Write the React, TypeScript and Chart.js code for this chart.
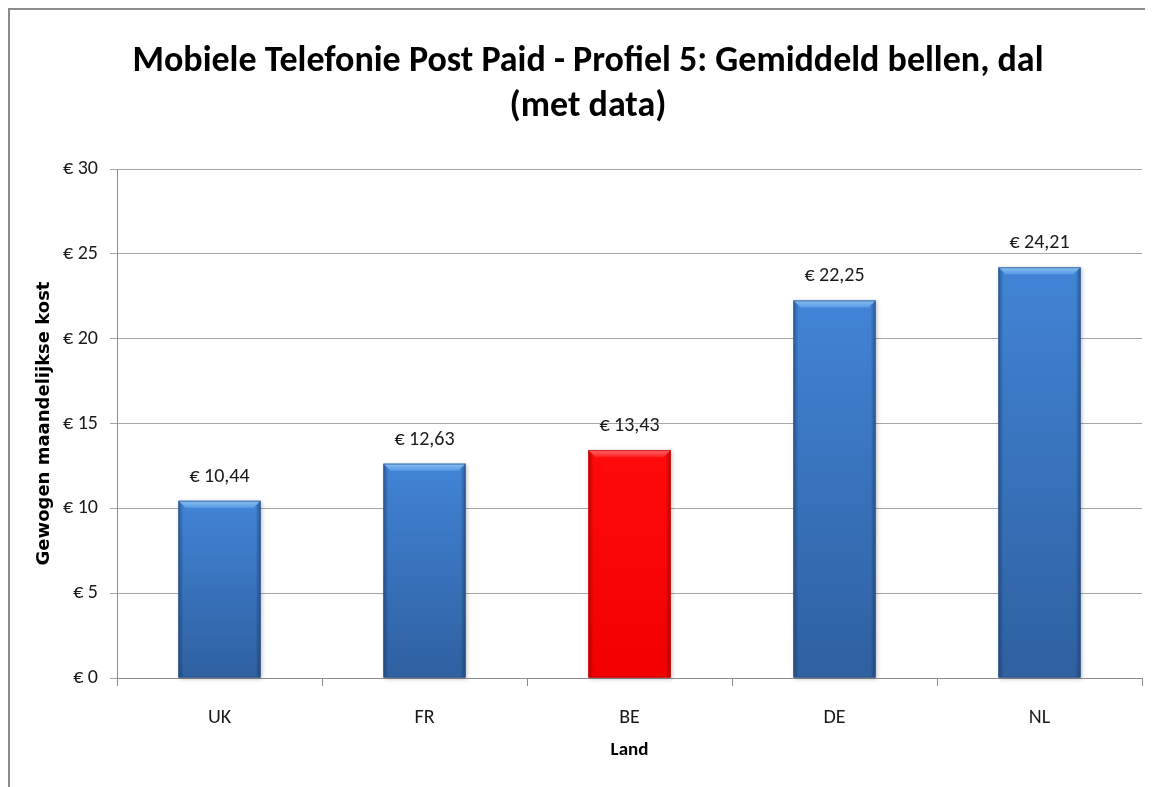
import React, { useEffect, useRef } from "react";
import { Chart, registerables } from "chart.js";

Chart.register(...registerables);

const categories = ["UK", "FR", "BE", "DE", "NL"];
const values = [10.44, 12.63, 13.43, 22.25, 24.21];
const highlight = [false, false, true, false, false];
const yTicks = [0, 5, 10, 15, 20, 25, 30];
const titleLines = ["Mobiele Telefonie Post Paid - Profiel 5: Gemiddeld bellen, dal", "(met data)"];
const yTitle = "Gewogen maandelijkse kost";
const xTitle = "Land";

const FONT = "Carlito, Lato, 'Noto Sans', sans-serif";
const YT_FONT = "'DejaVu Sans', Verdana, sans-serif";

const euro = (v: number, dec: number) => "€ " + v.toFixed(dec).replace(".", ",");

const barStyler = {
  id: "barStyler",
  afterDatasetsDraw(chart: any) {
    const ctx = chart.ctx;
    const meta = chart.getDatasetMeta(0);
    meta.data.forEach((bar: any, i: number) => {
      const { x, y, base, width } = bar.getProps(["x", "y", "base", "width"], true);
      const l = x - width / 2;
      const r = x + width / 2;
      const t = y;
      const b = base;
      const red = highlight[i];
      ctx.save();
      ctx.shadowColor = "rgba(0,0,0,0.25)";
      ctx.shadowBlur = 4;
      ctx.shadowOffsetX = 1;
      ctx.shadowOffsetY = 1;
      const g = ctx.createLinearGradient(0, t, 0, b);
      if (red) {
        g.addColorStop(0, "#ff0a0a");
        g.addColorStop(1, "#f20000");
      } else {
        g.addColorStop(0, "#4184d6");
        g.addColorStop(1, "#2f60a0");
      }
      ctx.fillStyle = g;
      ctx.fillRect(l, t, width, b - t);
      ctx.shadowColor = "transparent";
      ctx.shadowBlur = 0;
      ctx.shadowOffsetX = 0;
      ctx.shadowOffsetY = 0;
      const e = 5;
      const hg = ctx.createLinearGradient(l, 0, r, 0);
      const dark = red ? "rgba(120,0,0,0.35)" : "rgba(10,30,70,0.35)";
      hg.addColorStop(0, dark);
      hg.addColorStop(e / width, "rgba(0,0,0,0)");
      hg.addColorStop(1 - e / width, "rgba(0,0,0,0)");
      hg.addColorStop(1, dark);
      ctx.fillStyle = hg;
      ctx.fillRect(l, t, width, b - t);
      const bv = 7;
      ctx.beginPath();
      ctx.moveTo(l, t);
      ctx.lineTo(r, t);
      ctx.lineTo(r - bv, t + bv);
      ctx.lineTo(l + bv, t + bv);
      ctx.closePath();
      const tg = ctx.createLinearGradient(0, t, 0, t + bv);
      if (red) {
        tg.addColorStop(0, "#ff6a6a");
        tg.addColorStop(1, "#ff2020");
      } else {
        tg.addColorStop(0, "#8cc0f2");
        tg.addColorStop(1, "#559ae4");
      }
      ctx.fillStyle = tg;
      ctx.fill();
      ctx.strokeStyle = red ? "rgba(170,0,0,0.6)" : "rgba(40,80,140,0.6)";
      ctx.lineWidth = 1;
      ctx.strokeRect(l + 0.5, t + 0.5, width - 1, b - t - 1);
      ctx.restore();
    });
  },
};

const valueLabels = {
  id: "valueLabels",
  afterDatasetsDraw(chart: any) {
    const ctx = chart.ctx;
    const meta = chart.getDatasetMeta(0);
    ctx.save();
    ctx.font = `20px ${FONT}`;
    ctx.fillStyle = "#1a1a1a";
    ctx.textAlign = "center";
    ctx.textBaseline = "middle";
    meta.data.forEach((bar: any, i: number) => {
      ctx.fillText(euro(values[i], 2), bar.x, bar.y - 24);
    });
    ctx.restore();
  },
};

export default function App() {
  const ref = useRef<HTMLCanvasElement>(null);
  useEffect(() => {
    document.documentElement.style.overflow = "hidden";
    document.body.style.overflow = "hidden";
    const chart = new Chart(ref.current!, {
      type: "bar",
      data: {
        labels: categories,
        datasets: [
          {
            data: values,
            backgroundColor: values.map((_, i) => (highlight[i] ? "#ff0000" : "#3a74c2")),
            borderWidth: 0,
            barPercentage: 0.4,
            categoryPercentage: 1.0,
          },
        ],
      },
      options: {
        animation: false,
        responsive: false,
        maintainAspectRatio: false,
        events: [],
        layout: { padding: { top: 0, right: 11, bottom: 0, left: 24 } },
        plugins: {
          legend: { display: false },
          tooltip: { enabled: false },
          title: {
            display: true,
            text: titleLines,
            color: "#000",
            font: { family: FONT, size: 36, weight: "bold", lineHeight: 1.25 },
            padding: { top: 29, bottom: 40 },
          },
        },
        scales: {
          x: {
            grid: { offset: true, drawOnChartArea: false, tickLength: 8, color: "#8c8c8c" },
            border: { color: "#8c8c8c" },
            ticks: { color: "#1a1a1a", font: { family: FONT, size: 20 }, padding: 20 },
            title: {
              display: true,
              text: xTitle,
              color: "#000",
              font: { family: FONT, size: 19, weight: "bold" },
              padding: { top: 0, bottom: 25 },
            },
            afterFit(scale: any) {
              scale.height = 109;
            },
          },
          y: {
            min: 0,
            max: 30,
            afterBuildTicks(scale: any) {
              scale.ticks = yTicks.map((v) => ({ value: v }));
            },
            grid: { color: "#a6a6a6", tickLength: 7 },
            border: { color: "#8c8c8c" },
            ticks: {
              color: "#1a1a1a",
              font: { family: FONT, size: 20 },
              padding: 12,
              callback: (v: any) => euro(Number(v), 0),
            },
            title: {
              display: true,
              text: yTitle,
              color: "#000",
              font: { family: YT_FONT, size: 18, weight: "bold" },
              padding: { top: 0, bottom: 0 },
            },
            afterFit(scale: any) {
              scale.width = 83;
            },
          },
        },
      },
      plugins: [barStyler, valueLabels],
    });
    return () => chart.destroy();
  }, []);
  return (
    <div
      style={{
        borderLeft: "2px solid #8c8c8c",
        borderTop: "2px solid #8c8c8c",
        width: 1143,
        height: 777,
        background: "#fff",
      }}
    >
      <canvas ref={ref} width={1143} height={777} style={{ display: "block" }} />
    </div>
  );
}
